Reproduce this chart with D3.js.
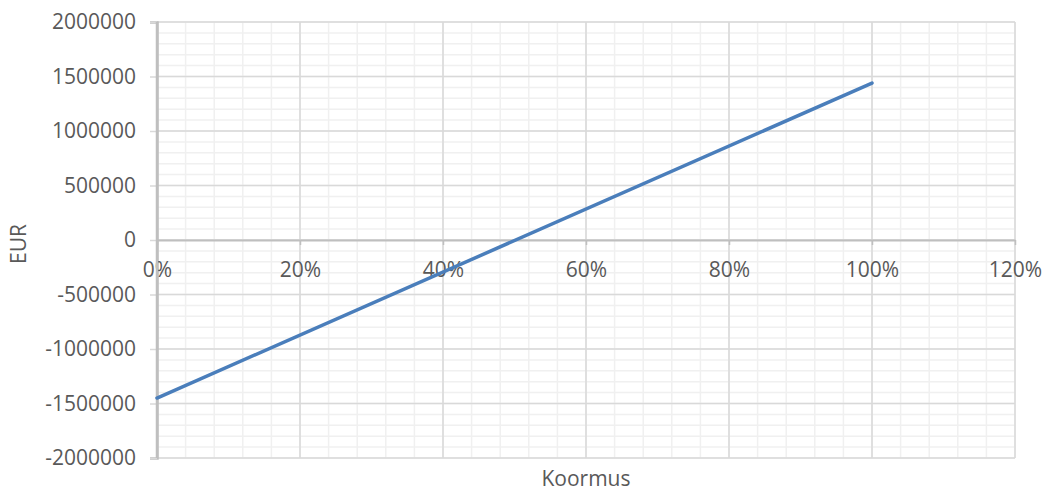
<!DOCTYPE html>
<html>
<head>
<meta charset="utf-8">
<script src="https://cdn.jsdelivr.net/npm/d3@7"></script>
<style>
  html, body { margin: 0; padding: 0; background: #ffffff; }
  svg { display: block; font-family: "Open Sans", "Liberation Sans", sans-serif; }
</style>
</head>
<body>
<svg id="chart" width="1046" height="492"></svg>
<script>
// Load level (share of capacity) and resulting result in EUR
const load = [0, 1.0];
const eur = [-1450000, 1440000];

// Axis ticks
const xTicks = [0, 0.2, 0.4, 0.6, 0.8, 1.0, 1.2];
const xTickLabels = ["0%", "20%", "40%", "60%", "80%", "100%", "120%"];
const yTicks = [-2000000, -1500000, -1000000, -500000, 0, 500000, 1000000, 1500000, 2000000];
const yTickLabels = ["-2000000", "-1500000", "-1000000", "-500000", "0", "500000", "1000000", "1500000", "2000000"];

const xTitle = "Koormus";
const yTitle = "EUR";

const W = 1046, H = 492;
const plot = { left: 157, right: 1015, top: 22, bottom: 458 };

const svg = d3.select("#chart");

const x = d3.scaleLinear().domain([0, 1.2]).range([plot.left, plot.right]);
const y = d3.scaleLinear().domain([-2000000, 2000000]).range([plot.bottom, plot.top]);

const textColor = "#595959";
const fontSize = 21;

// Minor gridlines
const xMinor = d3.range(0, 1.2 + 1e-9, 0.04);
const yMinor = d3.range(-2000000, 2000000 + 1, 100000);
const gMinor = svg.append("g");
gMinor.selectAll("line.vx").data(xMinor).join("line")
  .attr("x1", d => x(d)).attr("x2", d => x(d))
  .attr("y1", plot.top).attr("y2", plot.bottom)
  .attr("stroke", "#f0f0f0").attr("stroke-width", 1.5);
gMinor.selectAll("line.hy").data(yMinor).join("line")
  .attr("x1", plot.left).attr("x2", plot.right)
  .attr("y1", d => y(d)).attr("y2", d => y(d))
  .attr("stroke", "#f0f0f0").attr("stroke-width", 1.5);

// Major gridlines
const gMajor = svg.append("g");
gMajor.selectAll("line.vx").data(xTicks).join("line")
  .attr("x1", d => x(d)).attr("x2", d => x(d))
  .attr("y1", plot.top).attr("y2", plot.bottom)
  .attr("stroke", "#d9d9d9").attr("stroke-width", 1.5);
gMajor.selectAll("line.hy").data(yTicks).join("line")
  .attr("x1", plot.left).attr("x2", plot.right)
  .attr("y1", d => y(d)).attr("y2", d => y(d))
  .attr("stroke", "#d9d9d9").attr("stroke-width", 1.5);

// Y axis (left)
const yAxis = d3.axisLeft(y)
  .tickValues(yTicks)
  .tickFormat((d, i) => yTickLabels[i])
  .tickSize(7)
  .tickPadding(14);
const gy = svg.append("g").attr("transform", `translate(${plot.left},0)`).call(yAxis);
gy.select(".domain").attr("stroke", "#bfbfbf").attr("stroke-width", 2.5);
gy.selectAll(".tick line").attr("stroke", "#d9d9d9").attr("stroke-width", 1.5);
gy.selectAll(".tick text")
  .attr("fill", textColor)
  .style("font-size", fontSize + "px")
  .style("font-family", "'Open Sans', sans-serif");

// X axis crossing at zero
const xAxis = d3.axisBottom(x)
  .tickValues(xTicks)
  .tickFormat((d, i) => xTickLabels[i])
  .tickSize(5)
  .tickSizeOuter(0)
  .tickPadding(17);
const gx = svg.append("g").attr("transform", `translate(0,${y(0)})`).call(xAxis);
gx.select(".domain").attr("stroke", "#bfbfbf").attr("stroke-width", 2);
gx.selectAll(".tick line").attr("stroke", "#bfbfbf").attr("stroke-width", 1.5);
gx.selectAll(".tick text")
  .attr("fill", textColor)
  .style("font-size", fontSize + "px")
  .style("font-family", "'Open Sans', sans-serif");

// Re-draw y axis line on top of x axis
svg.append("line")
  .attr("x1", plot.left).attr("x2", plot.left)
  .attr("y1", plot.top).attr("y2", plot.bottom)
  .attr("stroke", "#bfbfbf").attr("stroke-width", 2.5);

// Data line
const line = d3.line().x(d => x(d[0])).y(d => y(d[1]));
svg.append("path")
  .datum(load.map((v, i) => [v, eur[i]]))
  .attr("d", line)
  .attr("fill", "none")
  .attr("stroke", "#4a7ebb")
  .attr("stroke-width", 3.5)
  .attr("stroke-linecap", "round");

// Axis titles
svg.append("text")
  .attr("x", (plot.left + plot.right) / 2)
  .attr("y", 486)
  .attr("text-anchor", "middle")
  .attr("fill", textColor)
  .style("font-size", fontSize + "px")
  .text(xTitle);

svg.append("text")
  .attr("transform", `translate(26,${(plot.top + plot.bottom) / 2 + 4}) rotate(-90)`)
  .attr("text-anchor", "middle")
  .attr("fill", textColor)
  .style("font-size", fontSize + "px")
  .text(yTitle);
</script>
</body>
</html>
